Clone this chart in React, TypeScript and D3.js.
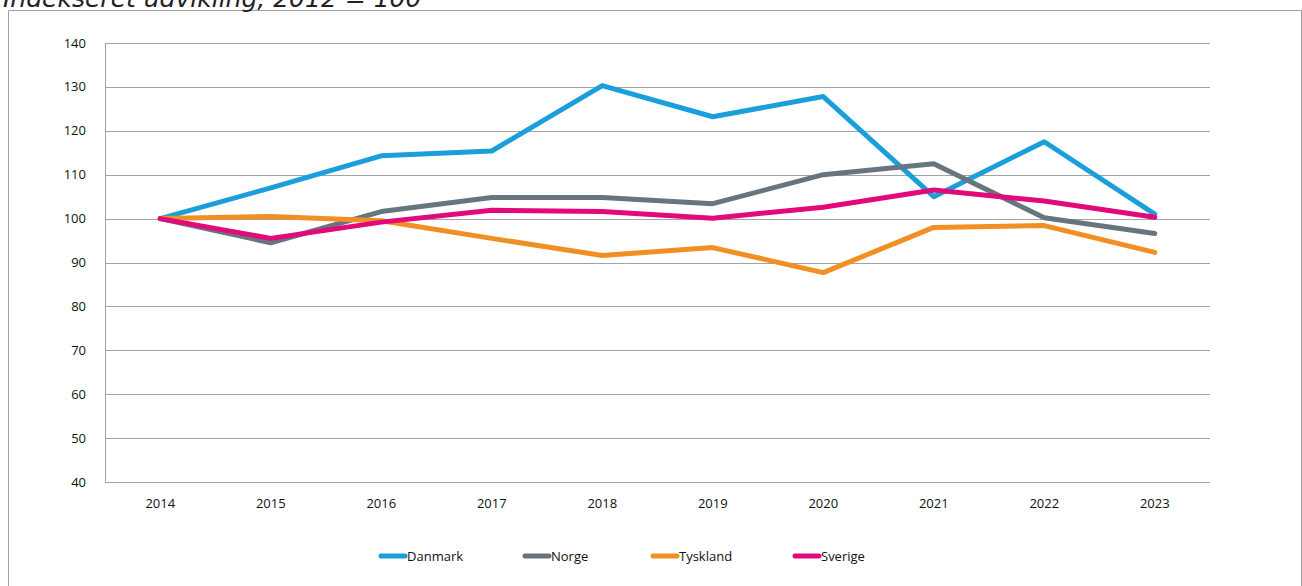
import { useEffect, useRef } from 'react';
import * as d3 from 'd3';

const years = ['2014', '2015', '2016', '2017', '2018', '2019', '2020', '2021', '2022', '2023'];
const danmark = [100, 107, 114.3, 115.4, 130.3, 123.2, 127.8, 105, 117.5, 101];
const norge = [100, 94.5, 101.6, 104.8, 104.8, 103.4, 110, 112.5, 100.2, 96.6];
const tyskland = [100, 100.5, 99.5, 95.5, 91.6, 93.4, 87.7, 98, 98.4, 92.3];
const sverige = [100, 95.5, 99.2, 101.9, 101.6, 100.1, 102.6, 106.5, 104, 100.3];
const yTicks = [40, 50, 60, 70, 80, 90, 100, 110, 120, 130, 140];

const seriesNames = ['Danmark', 'Norge', 'Tyskland', 'Sverige'];
const seriesValues = [danmark, norge, tyskland, sverige];
const colors = ['#1a9fdb', '#67757f', '#f08f23', '#e2097a'];

const App = () => {
  const svgRef = useRef<SVGSVGElement>(null);

  useEffect(() => {
    const width = 1302;
    const height = 586;
    const left = 105;
    const right = 1210;
    const top = 43;
    const bottom = 482;

    const svg = d3.select(svgRef.current).attr('width', width).attr('height', height);
    svg.selectAll('*').remove();

    // outer frame
    svg.append('path')
      .attr('d', `M8.5,${height} V10.5 H1301.5 V${height}`)
      .attr('fill', 'none')
      .attr('stroke', '#a0a0a0')
      .attr('stroke-width', 1);

    svg.append('text')
      .attr('x', 3)
      .attr('y', 7)
      .style('font-family', 'DejaVu Sans, Verdana, sans-serif')
      .style('font-style', 'italic')
      .style('font-size', '25px')
      .style('fill', '#222')
      .text('Indekseret udvikling, 2012 = 100');

    const x = d3.scaleBand().domain(years).range([left, right]);
    const y = d3.scaleLinear().domain([40, 140]).range([bottom, top]);

    // gridlines
    svg.append('g')
      .selectAll('line')
      .data(yTicks)
      .enter()
      .append('line')
      .attr('x1', left)
      .attr('x2', right)
      .attr('y1', (d) => Math.round(y(d)) + 0.5)
      .attr('y2', (d) => Math.round(y(d)) + 0.5)
      .attr('stroke', '#a3a3a3')
      .attr('stroke-width', 1);

    // axis line
    svg.append('line')
      .attr('x1', left + 0.5).attr('x2', left + 0.5)
      .attr('y1', top).attr('y2', bottom + 0.5)
      .attr('stroke', '#a3a3a3');

    const font = 'Open Sans, Liberation Sans, sans-serif';

    svg.append('g')
      .selectAll('text')
      .data(yTicks)
      .enter()
      .append('text')
      .attr('x', 86)
      .attr('y', (d) => y(d))
      .attr('dy', '0.35em')
      .attr('text-anchor', 'end')
      .style('font-family', font)
      .style('font-size', '13px')
      .style('fill', '#111')
      .text((d) => d);

    svg.append('g')
      .selectAll('text')
      .data(years)
      .enter()
      .append('text')
      .attr('x', (d) => (x(d) as number) + x.bandwidth() / 2)
      .attr('y', 503)
      .attr('dy', '0.35em')
      .attr('text-anchor', 'middle')
      .style('font-family', font)
      .style('font-size', '13px')
      .style('fill', '#111')
      .text((d) => d);

    const line = d3.line<number>()
      .x((_, i) => (x(years[i]) as number) + x.bandwidth() / 2)
      .y((d) => y(d));

    svg.append('g')
      .selectAll('path')
      .data(seriesValues)
      .enter()
      .append('path')
      .attr('d', (d) => line(d))
      .attr('fill', 'none')
      .attr('stroke', (_, i) => colors[i])
      .attr('stroke-width', 5)
      .attr('stroke-linejoin', 'round')
      .attr('stroke-linecap', 'round');

    // legend
    const legendX = [381, 525, 653, 795];
    const legend = svg.append('g')
      .selectAll('g')
      .data(seriesNames)
      .enter()
      .append('g')
      .attr('transform', (_, i) => `translate(${legendX[i]},556)`);

    legend.append('line')
      .attr('x1', 0).attr('x2', 24)
      .attr('y1', 0).attr('y2', 0)
      .attr('stroke', (_, i) => colors[i])
      .attr('stroke-width', 5)
      .attr('stroke-linecap', 'round');

    legend.append('text')
      .attr('x', 26)
      .attr('y', 0)
      .attr('dy', '0.35em')
      .style('font-family', font)
      .style('font-size', '13px')
      .style('fill', '#111')
      .text((d) => d);
  }, []);

  return (
    <div style={{ position: 'absolute', left: 0, top: 0 }}>
      <svg ref={svgRef} style={{ display: 'block' }}></svg>
    </div>
  );
};

export default App;
